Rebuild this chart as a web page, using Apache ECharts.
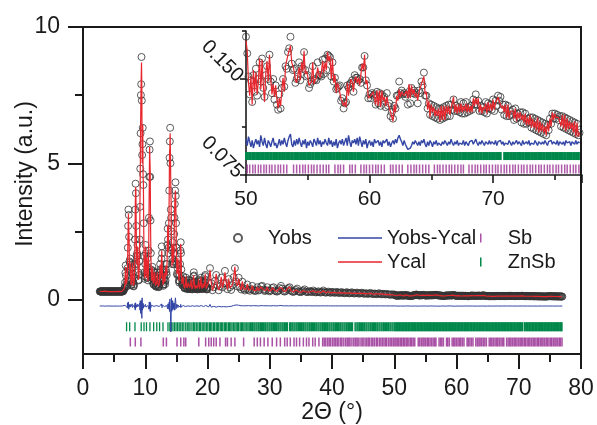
<!DOCTYPE html>
<html>
<head>
<meta charset="utf-8">
<script src="https://cdn.jsdelivr.net/npm/echarts@6/dist/echarts.min.js"></script>
<style>
  html, body { margin: 0; padding: 0; background: #fff; }
  #chart { width: 597px; height: 425px; }
</style>
</head>
<body>
<div id="chart"></div>
<script>
// Rietveld refinement of the powder pattern: observed / calculated intensities,
// their difference and the reflection positions of the two phases.
// Intensities are stored in thousandths of an arbitrary unit.

// 2.70° – 19.95°, step 0.05°
const lowStart = 2.70, lowStep = 0.05;
const obsLow = [
  296,291,299,293,288,297,302,294,290,298,295,289,300,296,292,298,287,295,301,293,
  290,297,294,299,292,288,296,300,293,291,297,295,289,302,294,290,298,293,296,291,
  299,294,288,296,301,292,295,290,298,293,297,289,294,300,291,296,293,298,290,295,
  292,299,294,290,297,293,301,295,289,296,292,298,294,291,300,306,320,345,380,420,
  450,620,980,1250,870,560,470,520,700,1150,1900,2700,3300,3100,2300,1400,1100,1350,1500,1000,
  650,520,560,780,1150,1300,950,640,500,480,560,800,1300,2200,3300,4250,3900,2700,1600,1300,
  1700,2000,1600,1000,720,700,900,1400,2200,3400,4800,6100,7500,7900,8900,7300,5300,5700,6300,4600,
  4200,2800,1600,1000,760,850,1300,2000,1700,1000,800,1000,1500,1200,800,700,1000,1800,3000,4500,
  5500,5800,4500,2900,1700,1100,800,700,850,1200,1050,750,580,540,620,850,1000,850,620,520,
  480,470,520,650,880,1000,800,580,480,450,470,540,720,1000,1300,1100,800,900,1500,1950,
  1700,1100,700,540,500,560,750,1000,900,650,560,700,1100,1300,1000,900,1300,2000,2600,2200,
  1700,1900,2800,4000,5200,5800,6300,5000,3300,3000,2500,1800,1300,1500,2100,1900,1400,1300,1700,2400,
  3000,3500,4000,4300,3800,2800,1900,1300,950,900,1150,1450,1250,900,700,620,680,900,1300,1800,
  2100,1700,1100,750,580,520,560,700,850,700,540,460,420,410,440,520,650,800,700,520,
  430,390,380,400,470,600,720,600,450,390,380,430,560,700,620,470,390,370,390,460,
  620,850,1000,880,640,470,400,380,410,500,620,560,430,380,370,420,560,720,640,470,
  400,380,420,540,700,800,680,500,410,380,400,480,620,560,440,400,460,620,850,900,
  720,520,410,370,380,450
];
const diffLow = [
  3,-4,2,0,-3,5,-2,1,-5,3,0,-2,4,-1,2,-3,1,0,-4,2,
  -2,3,0,-4,2,1,-3,4,-1,0,2,-3,1,-2,4,0,-1,3,-2,1,
  2,-1,-4,3,0,-2,1,4,-3,0,2,-1,3,-4,1,0,-2,3,-1,2,
  -3,1,4,-2,0,3,-1,2,-4,1,0,-3,2,4,-1,5,-6,10,-8,15,
  -20,30,-40,60,-30,10,-20,40,-60,120,-80,50,150,-120,60,-40,20,-30,60,-40,
  20,-10,30,-40,80,-50,20,-10,0,15,-20,40,-80,100,-150,120,-60,50,-30,20,
  -40,60,-30,20,0,-10,30,-60,100,-150,200,-250,180,-300,200,-450,300,-150,-100,100,
  -80,50,-30,20,-10,15,-40,60,-40,20,-10,30,-50,30,-10,20,-50,80,-120,150,
  -100,150,-200,120,-60,30,-20,10,-15,30,-20,10,-5,10,-10,20,-15,10,-5,5,
  -5,10,-10,15,-20,10,-5,0,5,-10,10,-20,30,-40,20,-10,30,-50,80,150,
  -60,40,-20,10,-5,10,-20,30,-20,10,-10,20,-40,50,-30,20,-40,60,-100,80,
  -50,80,-120,150,-200,250,200,-300,-950,-600,300,-200,100,-150,200,-100,60,-80,120,-150,
  100,-150,200,300,150,-100,60,-40,20,-30,50,-60,30,-20,10,-10,20,-40,60,-50,
  60,-40,30,-20,10,-10,20,-30,20,-10,5,-5,10,-10,15,-20,30,-40,20,-10,
  10,-5,5,-10,15,-20,30,-20,10,-5,5,-10,20,-30,20,-10,5,-5,10,-15,
  20,-40,60,-40,20,-10,5,-5,10,-20,30,-20,10,-5,5,-10,20,-30,20,-10,
  5,-5,10,-15,20,-30,20,-10,5,-5,10,-20,30,-20,10,-5,10,-20,40,-30,
  20,-10,5,-5,10,-15
];

// 20.0° – 49.8°, step 0.2°
const midStart = 20.0, midStep = 0.2;
const obsMid = [
  380,620,1150,600,340,450,680,900,520,340,480,800,450,600,1050,600,380,750,450,350,
  520,820,1150,650,480,800,450,370,650,400,330,380,550,360,320,380,500,350,310,330,
  450,330,360,480,500,360,310,340,450,330,300,330,420,450,330,300,290,330,420,500,
  400,310,290,320,380,420,450,330,290,280,300,350,400,300,280,270,300,330,370,290,
  270,280,310,290,270,330,290,260,270,300,270,255,280,330,270,250,265,290,260,245,
  280,265,245,255,280,250,235,260,270,240,230,250,270,235,225,245,265,230,220,240,
  255,225,215,235,250,220,210,230,220,205,225,240,210,200,220,210,195,215,230,200,
  190,210,200,185,205,190,180,175,190,178
];
const diffMid = [
  20,-30,60,-40,10,-10,20,-40,30,-10,10,-30,20,-20,50,-30,10,-20,30,-10,
  -10,20,-50,40,-20,30,-20,10,-20,10,-5,10,-20,15,-10,5,-10,15,-5,10,
  -10,5,-10,15,-20,10,-5,10,-15,10,-5,5,-10,15,-10,5,-5,10,-15,20,
  -10,5,-5,10,-10,5,-15,10,-5,5,-10,5,-5,10,-10,5,-5,10,-5,5,
  -5,10,-5,5,-10,5,-5,8,-5,5,-8,5,-5,8,-5,5,-5,8,-5,5,
  -5,5,-8,5,-5,5,-8,6,-4,5,-6,4,-5,6,-4,5,-5,4,-6,5,
  -4,5,-6,4,-5,6,-4,5,-5,4,-6,5,-4,6,-5,4,-5,6,-4,5,
  -5,4,-6,5,-4,5,-6,4,-5,3
];

// 50.0° – 77.0°, step 0.1°
const highStart = 50.0, highStep = 0.1;
const obsHigh = [
  183,170,152,138,149,132,153,140,158,137,150,163,148,166,143,136,153,160,150,169,
  148,139,150,134,145,130,126,138,127,143,150,144,160,158,171,174,183,162,157,158,
  147,150,152,163,149,160,158,171,157,152,153,143,146,148,160,149,150,149,163,153,
  153,152,165,154,166,157,169,168,167,152,163,148,151,142,143,144,145,133,135,127,
  131,132,145,143,146,147,149,140,153,151,151,149,150,147,159,159,168,149,145,135,
  138,135,139,137,138,130,140,131,139,129,138,135,136,128,139,129,131,121,124,119,
  129,127,137,137,148,139,141,138,139,136,138,130,140,131,143,139,141,138,139,131,
  141,139,148,145,155,137,137,127,131,122,130,121,129,120,128,119,127,118,127,119,
  128,120,129,121,130,121,130,126,134,125,129,125,128,124,132,123,131,123,132,124,
  128,125,129,126,134,130,138,130,133,125,129,125,128,124,132,123,131,127,130,126,
  134,125,133,129,137,133,136,126,130,122,130,121,129,121,125,122,126,118,127,119,
  123,120,124,116,124,115,123,115,119,116,120,112,120,111,119,110,118,109,117,108,
  116,107,115,106,114,110,119,115,123,119,123,119,122,118,121,113,121,112,120,111,
  119,110,118,109,117,108,116,107,115,106,108
];
const diffHigh = [
  3,-2,5,1,-3,2,-4,0,3,-1,2,-3,6,1,-2,4,-1,-4,2,0,
  -3,1,4,-2,0,-4,-1,3,-2,2,-1,4,0,-3,2,5,7,-1,-3,2,
  -2,3,-1,4,0,-3,2,-1,3,-4,1,-2,2,0,-3,3,1,-2,4,-1,
  2,-3,1,-1,3,0,-2,4,-1,2,-3,1,-2,3,-4,0,2,-1,3,-2,
  -1,4,-2,6,1,-3,2,0,3,-1,4,-2,5,1,-3,2,-1,3,-4,0,
  2,-2,1,-3,3,0,-1,2,-2,1,-3,2,0,-1,3,-2,1,-3,0,2,
  -1,3,0,4,6,3,1,-2,2,-1,-3,-5,-6,-4,-2,1,-1,2,0,-2,
  1,-2,2,0,3,-1,-3,1,-2,2,0,-3,1,-1,2,-2,0,1,-2,1,
  -1,2,0,-2,1,-1,3,0,-2,1,-1,2,-2,0,1,-1,2,-2,1,0,
  -2,1,0,2,-1,1,3,0,-2,1,-1,2,0,-2,1,0,-1,2,-1,1,
  0,-1,2,-2,1,0,2,-1,1,-2,0,1,-1,2,0,-2,1,-1,0,2,
  -1,1,0,-2,2,-1,0,1,-1,2,-2,0,1,-1,2,0,-2,1,0,-1,
  1,-1,2,0,-2,1,0,2,-1,1,0,-1,2,-2,1,0,-1,1,-2,2,
  0,-1,1,-2,1,0,-1,2,-1,1,0
];

// Bragg reflection positions (2θ, degrees)
const reflZnSb = [
  7.0,7.5,8.35,9.35,9.8,10.2,10.75,11.35,11.85,12.3,12.85,
  13.65,13.95,14.2,14.45,14.7,14.95,15.2,15.45,15.7,15.95,16.2,16.5,16.75,17.0,17.2,17.5,17.75,17.95,
  18.2,18.45,18.7,18.9,19.15,19.4,19.6,19.85,20.05,20.3,20.5,20.7,20.95,21.15,21.4,21.6,21.8,22.05,
  22.25,22.45,22.7,22.9,23.1,23.35,23.55,23.75,23.95,24.2,24.4,24.6,24.8,25.0,25.25,25.45,25.65,25.85,
  26.05,26.3,26.5,26.7,26.9,
  27.1,27.25,27.45,27.6,27.8,27.95,28.15,28.3,28.5,28.65,28.85,29.0,29.2,29.35,29.55,29.7,29.9,30.05,
  30.25,30.4,30.6,30.75,30.95,31.1,31.3,31.45,31.65,31.8,32.0,32.15,32.35,32.5,32.7,32.85,33.2,33.35,
  33.55,33.7,33.9,34.05,34.25,34.4,34.6,34.75,34.95,35.1,35.3,35.45,35.65,35.8,36.0,36.15,36.35,36.5,
  36.7,36.85,37.05,37.2,37.4,37.55,37.75,37.9,38.1,38.25,38.45,38.6,38.8,38.95,39.15,39.3,39.5,39.65,
  39.85,40.0,40.2,40.35,40.55,40.7,40.9,41.05,41.25,41.4,41.6,41.75,41.95,42.1,42.3,42.45,42.65,42.8,
  43.0,43.15,43.3,43.7,43.85,44.05,44.2,44.4,44.55,44.75,44.9,45.1,45.25,45.45,45.6,45.8,45.95,46.15,
  46.3,46.5,46.65,46.85,47.0,47.2,47.35,47.55,47.7,47.9,48.05,48.25,48.4,48.6,48.75,48.95,49.1,49.3,
  49.45,49.65,49.8,
  50.0,50.12,50.25,50.37,50.5,50.6,50.72,50.85,50.97,51.1,51.22,51.35,51.45,51.58,51.7,51.82,51.95,
  52.07,52.2,52.3,52.43,52.55,52.68,52.8,52.92,53.05,53.15,53.28,53.4,53.52,53.65,53.77,53.9,54.0,
  54.13,54.25,54.38,54.5,54.62,54.75,54.85,54.98,55.1,55.22,55.35,55.47,55.6,55.7,55.83,55.95,56.08,
  56.2,56.32,56.45,56.55,56.68,56.8,56.92,57.05,57.17,57.3,57.4,57.53,57.65,57.78,57.9,58.02,58.15,
  58.25,58.38,58.5,58.62,58.75,58.87,59.0,59.1,59.23,59.35,59.48,59.6,59.72,59.85,59.95,60.08,60.2,
  60.32,60.45,60.57,60.7,60.8,60.93,61.05,61.18,61.3,61.42,61.55,61.65,61.78,61.9,62.02,62.15,62.27,
  62.4,62.5,62.63,62.75,62.88,63.0,63.12,63.25,63.35,63.48,63.6,63.72,63.85,63.97,64.1,64.2,64.33,
  64.45,64.58,64.7,64.82,64.95,65.05,65.18,65.3,65.42,65.55,65.67,65.8,65.9,66.03,66.15,66.28,66.4,
  66.52,66.65,66.75,66.88,67.0,67.12,67.25,67.37,67.5,67.6,67.73,67.85,67.98,68.1,68.22,68.35,68.45,
  68.58,68.7,68.82,68.95,69.07,69.2,69.3,69.43,69.55,69.68,69.8,69.92,70.05,70.15,70.28,70.4,70.52,
  70.62,70.9,71.0,71.13,71.25,71.38,71.5,71.62,71.75,71.85,71.98,72.1,72.22,72.35,72.47,72.6,72.7,
  72.83,72.95,73.08,73.2,73.32,73.45,73.55,73.68,73.8,73.92,74.05,74.17,74.3,74.4,74.53,74.65,74.78,
  74.9,75.02,75.15,75.25,75.38,75.5,75.62,75.75,75.87,76.0,76.1,76.23,76.35,76.48,76.6,76.72,76.85,76.95
];
const reflSb = [
  7.6,8.4,9.3,12.9,13.4,15.1,15.7,16.2,16.5,18.6,19.7,20.2,20.6,21.0,21.4,22.0,22.9,23.2,23.8,24.4,
  25.8,27.5,28.0,28.5,29.1,29.7,30.4,31.1,31.7,32.4,32.8,33.3,33.9,34.3,34.8,35.4,35.9,36.3,36.9,37.3,
  37.9,38.5,38.75,39.0,39.3,39.55,39.8,40.1,40.35,40.6,40.85,41.1,41.4,41.6,41.9,42.2,42.45,42.7,42.9,
  43.2,43.5,43.75,44.0,44.2,44.5,44.8,45.0,45.3,45.55,45.8,46.0,46.3,46.55,46.8,47.1,47.3,47.6,47.85,
  48.1,48.35,48.6,48.8,49.1,49.35,49.6,49.85,
  50.1,50.3,50.55,50.75,51.0,51.2,51.45,51.65,51.9,52.1,52.35,52.6,52.8,53.05,53.3,53.85,54.1,54.35,
  54.6,54.8,55.05,55.3,55.5,55.75,56.0,56.25,56.5,56.7,57.2,57.45,57.65,57.9,58.4,58.6,58.85,59.3,
  59.55,59.75,60.0,60.25,60.5,60.7,60.95,61.2,61.7,61.9,62.15,62.4,62.65,63.1,63.35,63.6,63.8,64.05,
  64.3,64.55,64.8,65.25,65.5,65.7,65.95,66.2,66.45,66.65,66.9,67.15,67.4,67.6,68.05,68.3,68.55,68.75,
  69.0,69.25,69.45,69.7,69.95,70.2,70.4,70.65,70.9,71.1,71.35,71.6,71.8,72.05,72.3,72.5,72.75,73.0,
  73.2,73.45,73.7,73.9,74.15,74.4,74.6,74.85,75.1,75.3,75.55,75.8,76.0,76.25,76.5,76.7,76.95
];

// axis tick values
const mainYLabels = [0, 5, 10];
const mainYMinor = [2.5, 7.5];
const insetYLabels = [0.075, 0.150];
const insetYMinor = [0.1125, 0.1875];

// ---- drawing ----
const FONT = "'Liberation Sans', Arial, sans-serif";
const INK = '#1a1a1a';
const C_OBS = '#333333', C_CAL = '#e8262d', C_DIF = '#3346a6', C_ZNSB = '#00874a', C_SB = '#94268f';
const LINE_ICON = 'path://M0,0h34v1h-34z';
const BAR_ICON = 'path://M0,0h1v6h-1z';

// vertical placement of the difference curve and tick rows in each panel
const MAIN_DIFF_BASE = -0.24, MAIN_ZNSB_ROW = -1.0, MAIN_SB_ROW = -1.56;
const INSET_DIFF_BASE = 0.100, INSET_ZNSB_ROW = 0.0898, INSET_SB_ROW = 0.0797;
const INSET_FROM = 50;

function segment(start, step, obs, diff) {
  return obs.map((v, i) => ({
    t: Math.round((start + i * step) * 100) / 100,
    obs: v / 1000,
    diff: (diff[i] || 0) / 1000
  }));
}
const pattern = [].concat(
  segment(lowStart, lowStep, obsLow, diffLow),
  segment(midStart, midStep, obsMid, diffMid),
  segment(highStart, highStep, obsHigh, diffHigh)
);
const insetPattern = pattern.filter(p => p.t >= INSET_FROM);

const chart = echarts.init(document.getElementById('chart'), null, { renderer: 'canvas' });

const axisLineStyle = { color: INK, width: 2 };
const labelStyle = { color: INK, fontFamily: FONT };
const legendText = { fontFamily: FONT, fontSize: 20, color: INK, lineHeight: 20 };

const obsSeries = (xi, yi, pts) => ({
  name: 'Yobs', type: 'scatter', xAxisIndex: xi, yAxisIndex: yi,
  symbol: 'circle', symbolSize: 7, z: 2,
  itemStyle: { color: 'rgba(255,255,255,0)', borderColor: C_OBS, borderWidth: 1 },
  data: pts.map(p => [p.t, p.obs])
});
const calSeries = (xi, yi, pts) => ({
  name: 'Ycal', type: 'line', xAxisIndex: xi, yAxisIndex: yi, symbol: 'none', z: 3,
  lineStyle: { color: C_CAL, width: 1.2 }, itemStyle: { color: C_CAL },
  data: pts.map(p => [p.t, p.obs - p.diff])
});
const diffSeries = (xi, yi, pts, base, w) => ({
  name: 'Yobs-Ycal', type: 'line', xAxisIndex: xi, yAxisIndex: yi, symbol: 'none', z: 3,
  lineStyle: { color: C_DIF, width: w }, itemStyle: { color: C_DIF },
  data: pts.map(p => [p.t, p.diff + base])
});
const tickSeries = (name, color, xi, yi, pos, row, size, opacity) => ({
  name, type: 'scatter', xAxisIndex: xi, yAxisIndex: yi, symbol: 'rect', symbolSize: size, z: 2,
  itemStyle: { color, opacity },
  data: pos.map(t => [t, row])
});

const option = {
  animation: false,
  backgroundColor: '#fff',
  grid: [
    { left: 83, right: 16, top: 27, bottom: 71, show: true, borderColor: INK, borderWidth: 2, backgroundColor: 'transparent' },
    { left: 246, right: 15, top: 31, bottom: 250, show: false }
  ],
  xAxis: [
    {
      gridIndex: 0, type: 'value', min: 0, max: 80, interval: 10,
      axisLine: { show: true, onZero: false, lineStyle: axisLineStyle },
      axisTick: { show: true, inside: false, length: 15, lineStyle: { color: INK, width: 2 } },
      minorTick: { show: true, splitNumber: 2, length: 8, lineStyle: { color: INK, width: 2 } },
      axisLabel: Object.assign({ fontSize: 23, margin: 23 }, labelStyle),
      splitLine: { show: false }
    },
    {
      gridIndex: 1, type: 'value', min: 50, max: 77.2, interval: 10,
      axisLine: { show: true, onZero: false, lineStyle: { color: INK, width: 1.6 } },
      axisTick: { show: true, inside: false, length: 8, lineStyle: { color: INK, width: 1.6 } },
      minorTick: { show: true, splitNumber: 2, length: 5, lineStyle: { color: INK, width: 1.6 } },
      axisLabel: Object.assign({ fontSize: 21, margin: 14, showMaxLabel: false }, labelStyle),
      splitLine: { show: false }
    }
  ],
  yAxis: [
    {
      gridIndex: 0, type: 'value', min: -2, max: 10,
      axisLine: { show: true, onZero: false, lineStyle: axisLineStyle },
      axisTick: { show: true, inside: false, length: 15, customValues: mainYLabels, lineStyle: { color: INK, width: 2 } },
      axisLabel: Object.assign({ fontSize: 23, margin: 23, customValues: mainYLabels }, labelStyle),
      splitLine: { show: false }
    },
    {
      gridIndex: 0, type: 'value', min: -2, max: 10, position: 'left',
      axisLine: { show: false },
      axisTick: { show: true, inside: false, length: 8, customValues: mainYMinor, lineStyle: { color: INK, width: 2 } },
      axisLabel: { show: false },
      splitLine: { show: false }
    },
    {
      gridIndex: 1, type: 'value', min: 0.075, max: 0.1875,
      axisLine: { show: true, onZero: false, lineStyle: { color: INK, width: 1.6 } },
      axisTick: { show: true, inside: false, length: 6, customValues: insetYLabels, lineStyle: { color: INK, width: 1.6 } },
      axisLabel: Object.assign({ fontSize: 20, margin: 6, rotate: -45, customValues: insetYLabels,
        formatter: v => v.toFixed(3) }, labelStyle),
      splitLine: { show: false }
    },
    {
      gridIndex: 1, type: 'value', min: 0.075, max: 0.1875, position: 'left',
      axisLine: { show: false },
      axisTick: { show: true, inside: false, length: 4, customValues: insetYMinor, lineStyle: { color: INK, width: 1.6 } },
      axisLabel: { show: false },
      splitLine: { show: false }
    }
  ],
  legend: [
    {
      data: ['Yobs'], left: 228, top: 223, itemWidth: 50, itemHeight: 8, selectedMode: false,
      textStyle: legendText
    },
    {
      data: [
        { name: 'Yobs-Ycal', icon: LINE_ICON },
        { name: 'Ycal', icon: LINE_ICON }
      ],
      orient: 'vertical', left: 333, top: 223, itemWidth: 44, itemHeight: 10,
      itemGap: 4, selectedMode: false, symbolKeepAspect: true,
      textStyle: legendText
    },
    {
      data: [
        { name: 'Sb', icon: BAR_ICON },
        { name: 'ZnSb', icon: BAR_ICON }
      ],
      orient: 'vertical', left: 475, top: 223, itemWidth: 44, itemHeight: 9, itemGap: 4, selectedMode: false,
      symbolKeepAspect: true,
      textStyle: legendText
    }
  ],
  graphic: [
    {
      type: 'text', x: 26, y: 174, rotation: Math.PI / 2,
      style: { text: 'Intensity (a.u.)', font: "23px 'Liberation Sans', Arial, sans-serif", fill: INK,
        align: 'center', verticalAlign: 'middle', textAlign: 'center', textVerticalAlign: 'middle' }
    },
    {
      type: 'text', x: 332, y: 413,
      style: { text: '2\u0398 (\u00b0)', font: "23px 'Liberation Sans', Arial, sans-serif", fill: INK,
        align: 'center', verticalAlign: 'middle', textAlign: 'center', textVerticalAlign: 'middle' }
    }
  ],
  series: [
    obsSeries(0, 0, pattern),
    calSeries(0, 0, pattern),
    diffSeries(0, 0, pattern, MAIN_DIFF_BASE, 1),
    tickSeries('ZnSb', C_ZNSB, 0, 0, reflZnSb, MAIN_ZNSB_ROW, [1.3, 9], 1),
    tickSeries('Sb', C_SB, 0, 0, reflSb, MAIN_SB_ROW, [1.5, 9], 0.8),

    obsSeries(1, 2, insetPattern),
    calSeries(1, 2, insetPattern),
    diffSeries(1, 2, insetPattern, INSET_DIFF_BASE, 1.4),
    tickSeries('ZnSb', C_ZNSB, 1, 2, reflZnSb.filter(t => t >= INSET_FROM), INSET_ZNSB_ROW, [2, 8], 1),
    tickSeries('Sb', C_SB, 1, 2, reflSb.filter(t => t >= INSET_FROM), INSET_SB_ROW, [1.5, 9], 0.75)
  ]
};

chart.setOption(option);
</script>
</body>
</html>
